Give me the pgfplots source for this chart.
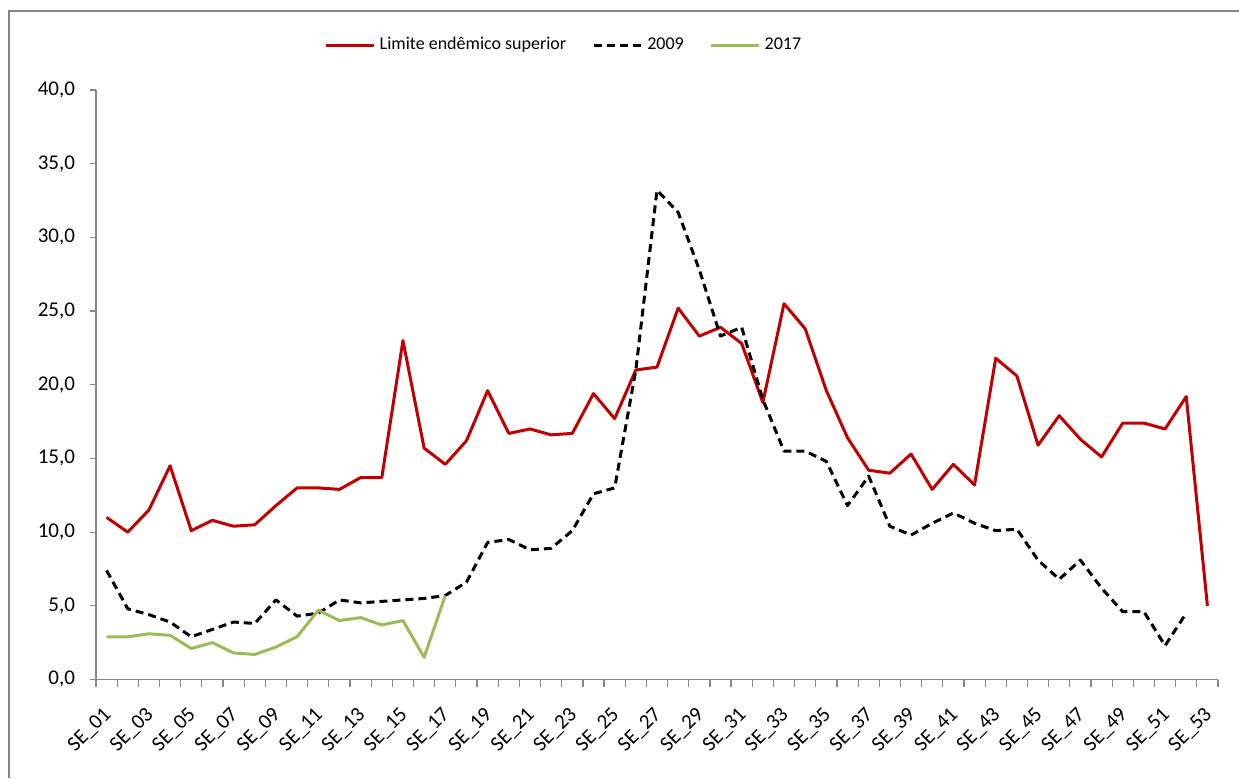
\documentclass[border=0pt]{standalone}
\usepackage{fontspec}
\setmainfont{Carlito}
\usepackage{pgfplots}
\pgfplotsset{compat=1.18}
\definecolor{exred}{HTML}{C00000}
\definecolor{exgreen}{HTML}{9BBB59}
\definecolor{axgray}{HTML}{868686}
\begin{document}
\begin{tikzpicture}[x=1pt,y=1pt]
\useasboundingbox (0,0) rectangle (619.5,389);
\draw[axgray, line width=0.6pt] (4.5,0) -- (4.5,383.5) -- (619.5,383.5);
\begin{axis}[
  at={(48pt,49.25pt)}, anchor=south west,
  scale only axis, width=561pt, height=294.75pt,
  xmin=0.5, xmax=53.5, ymin=0, ymax=40,
  axis x line*=bottom, axis y line*=left,
  axis line style={axgray, line width=0.8pt, -},
  xtick={1,3,...,53},
  xticklabels={SE\_01,SE\_03,SE\_05,SE\_07,SE\_09,SE\_11,SE\_13,SE\_15,SE\_17,SE\_19,SE\_21,SE\_23,SE\_25,SE\_27,SE\_29,SE\_31,SE\_33,SE\_35,SE\_37,SE\_39,SE\_41,SE\_43,SE\_45,SE\_47,SE\_49,SE\_51,SE\_53},
  minor xtick={0.5,1.5,...,53.5},
  major x tick style={draw=none},
  minor x tick style={axgray, line width=0.6pt},
  y tick style={axgray, line width=0.6pt},
  tick align=outside,
  major tick length=3pt, minor tick length=3.5pt,
  ytick={0,5,...,40},
  yticklabel style={font=\fontsize{10.5}{12}\selectfont, xshift=-4pt,
    /pgf/number format/fixed, /pgf/number format/fixed zerofill,
    /pgf/number format/precision=1, /pgf/number format/use comma,
    /pgf/number format/assume math mode=true},
  xticklabel style={font=\fontsize{10.5}{12}\selectfont, xshift=3.2pt, yshift=-10.6pt, rotate=45, anchor=east},
  legend style={draw=none, fill=none, at={(0.418,1.076)}, anchor=center, legend columns=-1,
    font=\fontsize{9}{11}\selectfont,
    /tikz/every even column/.append style={column sep=11pt}},
  legend image code/.code={\draw[#1] (0pt,0pt) -- (24pt,0pt);},
  every axis plot/.append style={line width=1.5pt, line join=round},
]
\addplot[exred] coordinates {
(1,11.0) (2,10.0) (3,11.5) (4,14.5) (5,10.1) (6,10.8) (7,10.4) (8,10.5) (9,11.8) (10,13.0)
(11,13.0) (12,12.9) (13,13.7) (14,13.7) (15,23.0) (16,15.7) (17,14.6) (18,16.2) (19,19.6) (20,16.7)
(21,17.0) (22,16.6) (23,16.7) (24,19.4) (25,17.7) (26,21.0) (27,21.2) (28,25.2) (29,23.3) (30,23.9)
(31,22.8) (32,18.8) (33,25.5) (34,23.8) (35,19.6) (36,16.4) (37,14.2) (38,14.0) (39,15.3) (40,12.9)
(41,14.6) (42,13.2) (43,21.8) (44,20.6) (45,15.9) (46,17.9) (47,16.3) (48,15.1) (49,17.4) (50,17.4)
(51,17.0) (52,19.2) (53,5.0)};
\addlegendentry{Limite endêmico superior}
\addplot[black, dash pattern=on 4pt off 2.5pt] coordinates {
(1,7.4) (2,4.8) (3,4.4) (4,3.9) (5,2.9) (6,3.4) (7,3.9) (8,3.8) (9,5.4) (10,4.3)
(11,4.5) (12,5.4) (13,5.2) (14,5.3) (15,5.4) (16,5.5) (17,5.7) (18,6.6) (19,9.3) (20,9.5)
(21,8.8) (22,8.9) (23,10.1) (24,12.6) (25,13.0) (26,21.0) (27,33.2) (28,31.7) (29,27.8) (30,23.3)
(31,23.9) (32,19.0) (33,15.5) (34,15.5) (35,14.8) (36,11.8) (37,13.8) (38,10.4) (39,9.8) (40,10.6)
(41,11.3) (42,10.6) (43,10.1) (44,10.2) (45,8.1) (46,6.8) (47,8.1) (48,6.2) (49,4.6) (50,4.6)
(51,2.3) (52,4.5)};
\addlegendentry{2009}
\addplot[exgreen] coordinates {
(1,2.9) (2,2.9) (3,3.1) (4,3.0) (5,2.1) (6,2.5) (7,1.8) (8,1.7) (9,2.2) (10,2.9)
(11,4.7) (12,4.0) (13,4.2) (14,3.7) (15,4.0) (16,1.5) (17,5.7)};
\addlegendentry{2017}
\end{axis}
\end{tikzpicture}
\end{document}
